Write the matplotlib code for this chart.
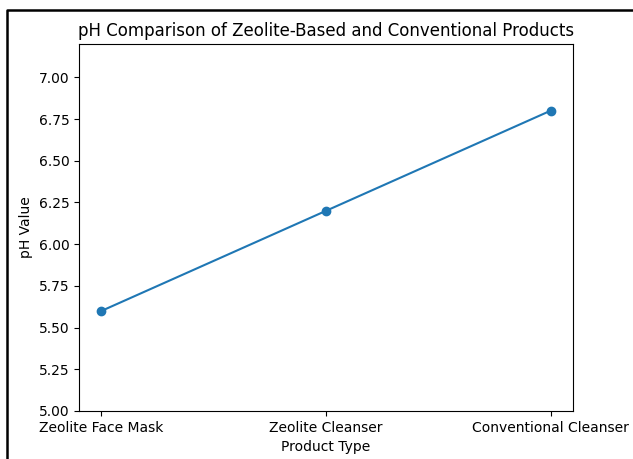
import matplotlib
matplotlib.use('Agg')
import matplotlib.pyplot as plt
from matplotlib.lines import Line2D

products = ['Zeolite Face Mask', 'Zeolite Cleanser', 'Conventional Cleanser']
ph_values = [5.6, 6.2, 6.8]

fig = plt.figure(figsize=(6.33, 4.59), dpi=100)
ax = fig.add_axes([79 / 633, 1 - 411 / 459, 494 / 633, 367 / 459])

ax.plot(products, ph_values, marker='o')
ax.set_ylim(5, 7.2)
ax.set_yticks([5.0, 5.25, 5.5, 5.75, 6.0, 6.25, 6.5, 6.75, 7.0])
ax.set_title('pH Comparison of Zeolite-Based and Conventional Products')
ax.set_xlabel('Product Type')
ax.set_ylabel('pH Value')

# black frame around the (cropped) screenshot
x0 = 7.5 / 633
y0 = 1 - 10 / 459
fig.add_artist(Line2D([x0, x0, 1.01], [-0.01, y0, y0], transform=fig.transFigure,
                      color='black', linewidth=1.8))

fig.savefig('out.png', dpi=100)
